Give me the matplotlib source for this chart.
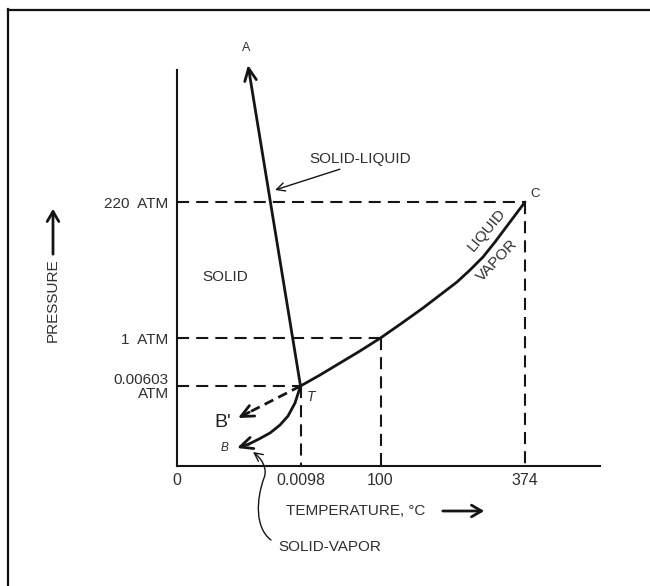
import matplotlib
matplotlib.use("Agg")
import matplotlib.pyplot as plt
from matplotlib.path import Path
from matplotlib.patches import FancyArrowPatch
from matplotlib.lines import Line2D

plt.rcParams['font.family'] = ['Liberation Sans', 'DejaVu Sans']

INK = '#151515'
TXT = '#2f2f2f'

# Schematic phase diagram of water (axes not to scale)
temp_labels = ["0", "0.0098", "100", "374"]
temp_pos = [0.0, 12.35, 20.35, 34.8]
press_labels = ["0.00603\nATM", "1  ATM", "220  ATM"]
press_pos = [8.0, 12.8, 26.4]

triple_point = (12.35, 8.0)
boiling_point = (20.35, 12.8)
critical_point = (34.8, 26.4)

# solid-liquid line, T -> A
fusion_tip = (7.1, 40.1)

# liquid-vapor line, T -> C
vap_x = [12.35, 14.3, 16.3, 18.3, 20.35, 22.5, 24.6, 26.3, 28.0, 29.3, 30.6, 31.8, 33.0, 33.9, 34.8]
vap_y = [8.0, 9.1, 10.3, 11.5, 12.8, 14.3, 15.8, 17.1, 18.4, 19.6, 20.9, 22.4, 24.0, 25.2, 26.4]

# solid-vapor line, T -> B
sub_x = [12.35, 11.8, 11.1, 10.3, 9.3, 8.2, 7.2, 6.0]
sub_y = [8.0, 6.3, 5.0, 4.1, 3.3, 2.7, 2.2, 1.8]

# metastable extension, T -> B'
supercooled_tip = (6.1, 4.8)

fig = plt.figure(figsize=(6.5, 5.86), dpi=100)
fig.patch.set_facecolor('white')
ax = fig.add_axes([177 / 650, 120 / 586, 423 / 650, 396 / 586])
ax.set_xlim(0, 42.3)
ax.set_ylim(0, 39.6)

for side in ('top', 'right'):
    ax.spines[side].set_visible(False)
for side in ('left', 'bottom'):
    ax.spines[side].set_linewidth(1.5)
    ax.spines[side].set_color(INK)

ax.set_xticks(temp_pos, temp_labels)
ax.set_yticks(press_pos, press_labels)
ax.tick_params(axis='both', length=0, labelcolor=TXT)
ax.tick_params(axis='x', pad=5, labelsize=11.5)
ax.tick_params(axis='y', pad=6, labelsize=11)
for lbl in ax.get_yticklabels():
    lbl.set_linespacing(1.0)

# dashed guide lines
dash_kw = dict(color=INK, lw=1.5, dashes=(5.8, 3.4))
tp_x, tp_y = triple_point
bp_x, bp_y = boiling_point
cp_x, cp_y = critical_point
ax.plot([0, tp_x], [tp_y, tp_y], **dash_kw)
ax.plot([tp_x, tp_x], [tp_y, 0], **dash_kw)
ax.plot([0, bp_x], [bp_y, bp_y], **dash_kw)
ax.plot([bp_x, bp_x], [bp_y, 0], **dash_kw)
ax.plot([0, cp_x], [cp_y, cp_y], **dash_kw)
ax.plot([cp_x, cp_x], [cp_y, 0], **dash_kw)

head = '->,head_length=0.75,head_width=0.35'

# solid-liquid line with arrow towards A
ax.annotate('', xy=fusion_tip, xytext=triple_point, annotation_clip=False,
            arrowprops=dict(arrowstyle=head, lw=2.0, color=INK,
                            shrinkA=0, shrinkB=0, mutation_scale=12))

# liquid-vapor line
ax.plot(vap_x, vap_y, color=INK, lw=2.0, solid_capstyle='round',
        solid_joinstyle='round')

# solid-vapor line with arrow towards B
ax.plot(sub_x[:-1], sub_y[:-1], color=INK, lw=2.0, solid_joinstyle='round')
ax.annotate('', xy=(sub_x[-1], sub_y[-1]), xytext=(sub_x[-2], sub_y[-2]),
            arrowprops=dict(arrowstyle=head, lw=2.0, color=INK,
                            shrinkA=0, shrinkB=0, mutation_scale=12))

# dashed extension towards B'
bx, by = supercooled_tip
near = (bx + 0.18 * (tp_x - bx), by + 0.18 * (tp_y - by))
ax.plot([tp_x, near[0]], [tp_y, near[1]], color=INK, lw=2.0, dashes=(3.5, 2.0))
ax.annotate('', xy=supercooled_tip, xytext=near,
            arrowprops=dict(arrowstyle=head, lw=2.0, color=INK,
                            shrinkA=0, shrinkB=0, mutation_scale=12))

# point labels
ax.annotate('A', xy=fusion_tip, xytext=(-1, 12), textcoords='offset points',
            ha='center', va='center', fontsize=9, color=TXT, annotation_clip=False)
ax.annotate('C', xy=critical_point, xytext=(7, 6), textcoords='offset points',
            ha='center', va='center', fontsize=9.5, color=TXT)
ax.annotate('T', xy=triple_point, xytext=(7.5, -8), textcoords='offset points',
            ha='center', va='center', fontsize=10, style='italic', color=TXT)
ax.annotate('B', xy=(sub_x[-1], sub_y[-1]), xytext=(-9, 0), textcoords='offset points',
            ha='center', va='center', fontsize=8.5, style='italic', color=TXT)
ax.annotate("B'", xy=supercooled_tip, xytext=(-11, -3.5), textcoords='offset points',
            ha='center', va='center', fontsize=14, color='#202020')

# region and line labels
ax.text(4.8, 18.9, 'SOLID', ha='center', va='center', fontsize=11, color=TXT)
ax.text(31.0, 23.6, 'LIQUID', ha='center', va='center', fontsize=11,
        rotation=50, color=TXT)
ax.text(32.0, 20.6, 'VAPOR', ha='center', va='center', fontsize=11,
        rotation=46, color=TXT)

ax.annotate('SOLID-LIQUID', xy=(9.8, 27.6), xytext=(18.3, 30.7),
            ha='center', va='center', fontsize=11, color=TXT,
            arrowprops=dict(arrowstyle='->,head_length=0.5,head_width=0.25',
                            lw=1.0, color=INK, relpos=(0.4, 0.0),
                            shrinkA=1, shrinkB=0, mutation_scale=12))

ax.text(15.3, -8.1, 'SOLID-VAPOR', ha='center', va='center', fontsize=11,
        color=TXT, clip_on=False)
sv_path = Path([(9.4, -7.4), (7.8, -6.2), (7.9, -3.4), (8.7, -1.2),
                (9.1, -0.2), (8.4, 0.8), (7.6, 1.4)],
               [Path.MOVETO, Path.CURVE4, Path.CURVE4, Path.CURVE4,
                Path.CURVE4, Path.CURVE4, Path.CURVE4])
ax.add_patch(FancyArrowPatch(path=sv_path, transform=ax.transData,
                             arrowstyle='->,head_length=0.5,head_width=0.25',
                             mutation_scale=12, lw=1.0, color=INK, clip_on=False))

# axis titles with direction arrows
fig.text(53 / 650, 1 - 300 / 586, 'PRESSURE', rotation=90, ha='center', va='center',
         fontsize=11, color=TXT)
fig.add_artist(FancyArrowPatch((53 / 650, 1 - 257 / 586), (53 / 650, 1 - 206 / 586),
                               transform=fig.transFigure,
                               arrowstyle='->,head_length=0.6,head_width=0.35',
                               mutation_scale=12, lw=2.0, color=INK))
fig.text(356 / 650, 1 - 511 / 586, 'TEMPERATURE, °C', ha='center', va='center',
         fontsize=11, color=TXT)
fig.add_artist(FancyArrowPatch((440 / 650, 1 - 511 / 586), (487 / 650, 1 - 511 / 586),
                               transform=fig.transFigure,
                               arrowstyle='->,head_length=0.6,head_width=0.35',
                               mutation_scale=12, lw=2.0, color=INK))

# outer frame (left and top edges)
fig.add_artist(Line2D([7.5 / 650, 7.5 / 650], [0, 1 - 9 / 586],
                      transform=fig.transFigure, color='#111111', lw=1.6))
fig.add_artist(Line2D([7.5 / 650, 1], [1 - 9.5 / 586, 1 - 9.5 / 586],
                      transform=fig.transFigure, color='#111111', lw=1.6))

fig.savefig('out.png', dpi=100, facecolor='white')
